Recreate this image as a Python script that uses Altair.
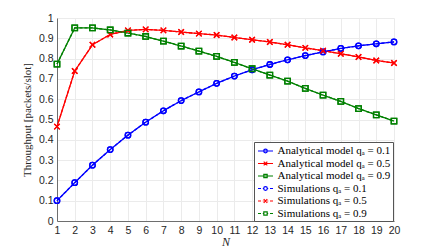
import altair as alt
import pandas as pd

N = list(range(1, 21))
q01 = [0.100, 0.189, 0.275, 0.352, 0.423, 0.487, 0.543, 0.593, 0.636, 0.678,
       0.714, 0.745, 0.771, 0.794, 0.815, 0.833, 0.850, 0.863, 0.873, 0.882]
q05 = [0.465, 0.739, 0.868, 0.919, 0.939, 0.944, 0.939, 0.931, 0.923, 0.916,
       0.904, 0.893, 0.882, 0.868, 0.853, 0.839, 0.824, 0.808, 0.791, 0.778]
q09 = [0.773, 0.951, 0.951, 0.941, 0.926, 0.909, 0.886, 0.862, 0.837, 0.811,
       0.781, 0.750, 0.719, 0.689, 0.653, 0.620, 0.589, 0.554, 0.523, 0.492]
sim01 = q01
sim05 = q05
sim09 = q09

labels = [
    "Analytical model qₐ = 0.1",
    "Analytical model qₐ = 0.5",
    "Analytical model qₐ = 0.9",
    "Simulations qₐ = 0.1",
    "Simulations qₐ = 0.5",
    "Simulations qₐ = 0.9",
]
colors = ["#0000ff", "#ff0000", "#008000", "#0000ff", "#ff0000", "#008000"]
qvals = ["0.1", "0.5", "0.9", "0.1", "0.5", "0.9"]
kinds = ["model", "model", "model", "sim", "sim", "sim"]
series_vals = [q01, q05, q09, sim01, sim05, sim09]

rows = []
for lab, q, k, vals in zip(labels, qvals, kinds, series_vals):
    for n, v in zip(N, vals):
        rows.append({"N": n, "T": v, "series": lab, "q": q, "kind": k})
df = pd.DataFrame(rows)

circle = "M-1,0A1,1 0 1,0 1,0A1,1 0 1,0 -1,0Z"
xmark = "M-1,-1L1,1M-1,1L1,-1"
square = "M-1,-1H1V1H-1Z"

# legend symbols: line + marker (unit coordinates, size 144 -> 12px)
def leg(marker, dashed):
    if dashed:
        line = "M-1.25,0H-0.75M-0.45,0H-0.3M0.3,0H0.45M0.75,0H1.25"
    else:
        line = "M-1.25,0H1.25"
    return line + marker

lc = "M-0.3,0A0.3,0.3 0 1,0 0.3,0A0.3,0.3 0 1,0 -0.3,0Z"
lx = "M-0.3,-0.3L0.3,0.3M-0.3,0.3L0.3,-0.3"
ls = "M-0.28,-0.28H0.28V0.28H-0.28Z"
leg_shapes = [leg(lc, False), leg(lx, False), leg(ls, False),
              leg(lc, True), leg(lx, True), leg(ls, True)]

xs = alt.X("N:Q", scale=alt.Scale(domain=[1, 20], nice=False),
           axis=alt.Axis(values=N, title="N", titleFontStyle="italic",
                         titleFont="Liberation Serif", titleFontWeight="normal",
                         titleFontSize=12, titlePadding=1, format="d",
                         labelFlush=False))
ys = alt.Y("T:Q", scale=alt.Scale(domain=[0, 1], nice=False),
           axis=alt.Axis(values=[i / 10 for i in range(11)], format="~g",
                         title="Throughput [packets/slot]",
                         titleFont="Liberation Serif", titleFontWeight="normal",
                         titleFontSize=11, titlePadding=6, labelFlush=False))
color = alt.Color("series:N", scale=alt.Scale(domain=labels, range=colors), legend=None)

lines = alt.Chart(df).mark_line(strokeWidth=1.3).encode(
    x=xs, y=ys, color=color,
    strokeDash=alt.StrokeDash("kind:N", scale=alt.Scale(domain=["model", "sim"],
                              range=[[1, 0], [3, 2]]), legend=None),
)
points = alt.Chart(df).mark_point(filled=False, size=30, strokeWidth=1.3, opacity=1).encode(
    x=xs, y=ys, color=color,
    shape=alt.Shape("q:N", scale=alt.Scale(domain=["0.1", "0.5", "0.9"],
                    range=[circle, xmark, square]), legend=None),
)
legend_layer = alt.Chart(df).mark_point(filled=False, opacity=0, size=1).encode(
    x=xs, y=ys,
    color=alt.Color("series:N", scale=alt.Scale(domain=labels, range=colors),
                    legend=alt.Legend(title=None, orient="none", legendX=197, legendY=124,
                                      symbolOpacity=1, symbolSize=144)),
    shape=alt.Shape("series:N", scale=alt.Scale(domain=labels, range=leg_shapes),
                    legend=alt.Legend(title=None, orient="none", legendX=197, legendY=124,
                                      symbolOpacity=1, symbolSize=144)),
)

chart = alt.layer(lines, points, legend_layer).resolve_scale(
    color="independent", shape="independent"
).properties(
    width=337, height=203,
    autosize=alt.AutoSizeParams(type="none"),
    padding={"left": 49, "top": 10, "right": 34, "bottom": 27},
).configure_view(stroke=None).configure_axis(
    grid=True, gridColor="#ebebeb", gridWidth=1,
    domainColor="#6e6e6e", domainWidth=1,
    tickSize=0, labelPadding=4,
    labelFont="Liberation Sans", labelFontSize=10.5, labelColor="#262626",
    titleColor="#262626",
).configure_legend(
    strokeColor="#555555", fillColor="white", padding=2, symbolOffset=2.5,
    labelFont="Liberation Serif", labelFontSize=11, labelColor="#000000",
    symbolStrokeWidth=1.2, rowPadding=0.5, labelOffset=5, cornerRadius=0,
)

chart.save("out.html", embed_options={"renderer": "svg", "actions": False})
